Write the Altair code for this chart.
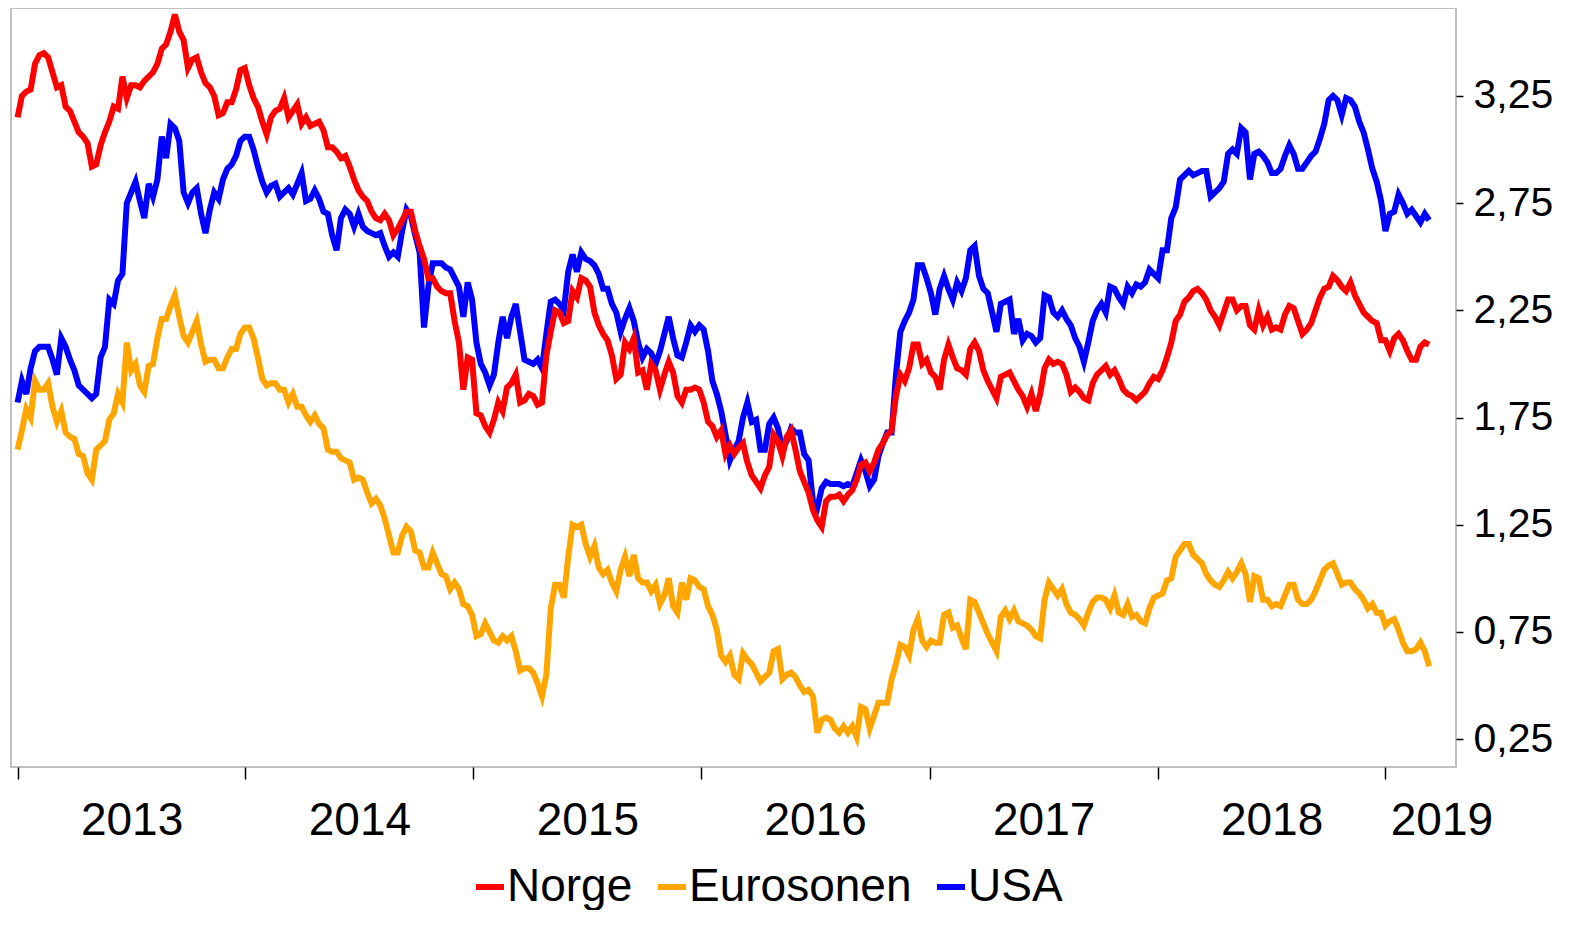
import altair as alt
import pandas as pd

dates_a = pd.date_range("2013-01-01", periods=162, freq="14D").strftime("%Y-%m-%d").tolist()
dates_b = pd.date_range("2013-01-08", periods=162, freq="14D").strftime("%Y-%m-%d").tolist()

norge_a = [
    3.15, 3.27, 3.40, 3.45, 3.36, 3.30, 3.18, 3.08, 3.03, 2.93,
    3.08, 3.20, 3.34, 3.30, 3.29, 3.34, 3.40, 3.49, 3.63, 3.51,
    3.42, 3.36, 3.29, 3.16, 3.22, 3.28, 3.38, 3.24, 3.13, 3.15,
    3.19, 3.15, 3.21, 3.15, 3.12, 3.09, 3.01, 2.96, 2.92, 2.81,
    2.76, 2.68, 2.70, 2.60, 2.67, 2.71, 2.55, 2.40, 2.36, 2.33,
    2.20, 1.88, 2.02, 1.76, 1.68, 1.82, 1.89, 1.95, 1.83, 1.85,
    1.82, 2.15, 2.24, 2.20, 2.31, 2.39, 2.24, 2.14, 2.04, 1.95,
    2.07, 1.96, 1.88, 1.97, 1.95, 1.96, 1.82, 1.88, 1.88, 1.73,
    1.66, 1.58, 1.58, 1.63, 1.48, 1.42, 1.52, 1.64, 1.66, 1.60,
    1.45, 1.32, 1.24, 1.38, 1.39, 1.39, 1.46, 1.54, 1.54, 1.63,
    1.69, 1.95, 1.98, 2.09, 2.02, 1.94, 2.02, 2.03, 1.97, 2.07,
    2.06, 1.92, 1.84, 1.95, 1.92, 1.85, 1.86, 1.86, 2.02, 2.01,
    1.95, 1.89, 1.84, 1.91, 1.97, 1.95, 1.93, 1.86, 1.83, 1.87,
    1.94, 1.97, 2.10, 2.23, 2.31, 2.35, 2.30, 2.22, 2.24, 2.30,
    2.27, 2.18, 2.25, 2.22, 2.17, 2.23, 2.26, 2.14, 2.19, 2.31,
    2.36, 2.39, 2.34, 2.32, 2.24, 2.20, 2.11, 2.06, 2.14, 2.06,
    2.02, 2.10,
]
norge_b = [
    3.25, 3.28, 3.44, 3.43, 3.29, 3.20, 3.13, 3.06, 2.92, 3.02,
    3.13, 3.19, 3.24, 3.30, 3.32, 3.36, 3.47, 3.55, 3.55, 3.38,
    3.43, 3.31, 3.25, 3.17, 3.22, 3.37, 3.30, 3.20, 3.07, 3.18,
    3.24, 3.18, 3.12, 3.11, 3.13, 3.01, 2.99, 2.97, 2.86, 2.78,
    2.71, 2.67, 2.67, 2.63, 2.71, 2.62, 2.49, 2.40, 2.34, 2.33,
    2.10, 2.03, 1.77, 1.71, 1.74, 1.78, 1.91, 1.82, 1.86, 1.81,
    2.04, 2.25, 2.19, 2.34, 2.40, 2.36, 2.18, 2.11, 1.93, 2.10,
    2.12, 1.97, 2.00, 1.88, 2.01, 1.85, 1.88, 1.89, 1.82, 1.71,
    1.69, 1.62, 1.61, 1.54, 1.45, 1.48, 1.67, 1.57, 1.69, 1.50,
    1.40, 1.27, 1.36, 1.38, 1.36, 1.41, 1.53, 1.50, 1.60, 1.67,
    1.85, 1.92, 2.09, 2.00, 1.96, 1.88, 2.09, 1.98, 1.95, 2.10,
    1.97, 1.88, 1.94, 1.96, 1.88, 1.80, 1.78, 1.98, 2.00, 2.00,
    1.87, 1.87, 1.83, 1.95, 1.99, 1.97, 1.88, 1.85, 1.85, 1.91,
    1.93, 2.03, 2.20, 2.29, 2.34, 2.33, 2.25, 2.18, 2.30, 2.25,
    2.27, 2.16, 2.18, 2.16, 2.16, 2.27, 2.20, 2.16, 2.25, 2.35,
    2.41, 2.36, 2.38, 2.28, 2.22, 2.19, 2.11, 2.12, 2.11, 2.02,
    2.08, 2.09,
]

eurosonen_a = [
    1.60, 1.79, 1.92, 1.88, 1.80, 1.78, 1.66, 1.58, 1.49, 1.60,
    1.64, 1.77, 1.82, 1.97, 1.90, 1.99, 2.12, 2.21, 2.32, 2.13,
    2.15, 2.09, 2.02, 1.98, 2.03, 2.07, 2.17, 2.12, 1.93, 1.91,
    1.88, 1.82, 1.80, 1.76, 1.76, 1.70, 1.59, 1.56, 1.54, 1.47,
    1.40, 1.37, 1.28, 1.12, 1.20, 1.22, 1.12, 1.05, 1.07, 1.01,
    0.98, 0.88, 0.83, 0.74, 0.75, 0.70, 0.71, 0.66, 0.58, 0.56,
    0.45, 0.86, 0.97, 1.10, 1.24, 1.16, 1.15, 1.02, 0.98, 1.04,
    1.01, 1.00, 0.98, 0.97, 0.92, 0.87, 0.98, 1.00, 0.96, 0.87,
    0.76, 0.61, 0.55, 0.65, 0.60, 0.52, 0.56, 0.67, 0.55, 0.54,
    0.47, 0.45, 0.34, 0.34, 0.28, 0.28, 0.26, 0.39, 0.36, 0.42,
    0.53, 0.69, 0.64, 0.81, 0.68, 0.70, 0.83, 0.77, 0.72, 0.90,
    0.84, 0.74, 0.66, 0.85, 0.85, 0.79, 0.76, 0.72, 0.98, 0.92,
    0.88, 0.83, 0.78, 0.89, 0.91, 0.86, 0.84, 0.88, 0.83, 0.79,
    0.91, 0.93, 1.00, 1.13, 1.16, 1.09, 1.02, 0.97, 0.99, 1.00,
    1.07, 0.89, 1.00, 0.90, 0.88, 0.92, 0.97, 0.88, 0.90, 0.99,
    1.06, 1.02, 0.98, 0.95, 0.90, 0.88, 0.84, 0.80, 0.76, 0.66,
    0.67, 0.66,
]
eurosonen_b = [
    1.69, 1.75, 1.88, 1.91, 1.73, 1.68, 1.65, 1.57, 1.46, 1.62,
    1.74, 1.86, 2.10, 2.00, 1.87, 2.00, 2.21, 2.27, 2.22, 2.10,
    2.20, 2.01, 2.02, 1.98, 2.07, 2.14, 2.17, 2.03, 1.90, 1.91,
    1.88, 1.86, 1.80, 1.73, 1.72, 1.60, 1.59, 1.55, 1.46, 1.46,
    1.35, 1.34, 1.20, 1.12, 1.24, 1.13, 1.05, 1.12, 1.02, 0.95,
    0.95, 0.87, 0.73, 0.79, 0.71, 0.73, 0.73, 0.57, 0.58, 0.51,
    0.55, 0.97, 0.91, 1.25, 1.25, 1.10, 1.05, 1.04, 0.94, 1.10,
    1.11, 0.98, 0.94, 0.88, 1.00, 0.84, 0.90, 0.99, 0.95, 0.83,
    0.64, 0.64, 0.53, 0.62, 0.56, 0.54, 0.66, 0.53, 0.56, 0.50,
    0.48, 0.28, 0.35, 0.30, 0.31, 0.31, 0.40, 0.30, 0.42, 0.42,
    0.60, 0.68, 0.76, 0.71, 0.71, 0.70, 0.84, 0.78, 0.67, 0.89,
    0.79, 0.70, 0.82, 0.81, 0.80, 0.78, 0.73, 0.90, 0.95, 0.95,
    0.84, 0.81, 0.84, 0.91, 0.90, 0.92, 0.83, 0.82, 0.80, 0.86,
    0.92, 0.99, 1.10, 1.16, 1.11, 1.07, 0.99, 0.96, 1.03, 1.03,
    1.02, 1.01, 0.90, 0.87, 0.87, 0.97, 0.90, 0.88, 0.94, 1.04,
    1.07, 0.97, 0.98, 0.93, 0.86, 0.84, 0.78, 0.81, 0.70, 0.66,
    0.70, 0.59,
]

usa_a = [
    1.82, 1.86, 2.06, 2.08, 2.02, 2.12, 2.02, 1.90, 1.86, 1.86,
    2.08, 2.28, 2.42, 2.80, 2.76, 2.84, 2.86, 2.96, 3.10, 2.80,
    2.80, 2.70, 2.72, 2.77, 2.91, 2.97, 3.06, 3.00, 2.85, 2.83,
    2.78, 2.82, 2.84, 2.76, 2.81, 2.71, 2.60, 2.68, 2.70, 2.70,
    2.62, 2.60, 2.55, 2.52, 2.62, 2.69, 2.52, 2.36, 2.47, 2.45,
    2.40, 2.22, 2.30, 2.00, 1.90, 2.10, 2.12, 2.28, 2.02, 2.00,
    1.98, 2.29, 2.28, 2.43, 2.43, 2.49, 2.46, 2.35, 2.28, 2.15,
    2.26, 2.10, 2.07, 2.00, 2.14, 2.12, 2.03, 2.18, 2.18, 2.06,
    1.86, 1.67, 1.60, 1.75, 1.73, 1.60, 1.72, 1.70, 1.64, 1.68,
    1.58, 1.36, 1.42, 1.44, 1.44, 1.44, 1.49, 1.50, 1.46, 1.63,
    1.68, 2.15, 2.24, 2.46, 2.40, 2.23, 2.41, 2.30, 2.34, 2.53,
    2.41, 2.33, 2.15, 2.29, 2.14, 2.11, 2.13, 2.12, 2.31, 2.22,
    2.21, 2.12, 2.01, 2.20, 2.28, 2.36, 2.31, 2.36, 2.37, 2.38,
    2.42, 2.53, 2.68, 2.86, 2.90, 2.89, 2.90, 2.80, 2.85, 3.00,
    3.10, 2.86, 2.99, 2.94, 2.89, 2.97, 2.98, 2.91, 2.97, 3.05,
    3.23, 3.23, 3.24, 3.20, 3.08, 2.91, 2.76, 2.70, 2.79, 2.70,
    2.69, 2.70,
]
usa_b = [
    1.92, 1.98, 2.08, 2.08, 1.95, 2.08, 1.97, 1.88, 1.84, 2.03,
    2.30, 2.39, 2.75, 2.85, 2.68, 2.78, 3.06, 3.12, 3.04, 2.75,
    2.82, 2.61, 2.80, 2.86, 2.93, 3.04, 3.06, 2.92, 2.80, 2.84,
    2.80, 2.79, 2.89, 2.77, 2.77, 2.70, 2.53, 2.72, 2.64, 2.64,
    2.61, 2.61, 2.50, 2.50, 2.72, 2.60, 2.17, 2.47, 2.47, 2.44,
    2.36, 2.38, 2.10, 1.96, 1.95, 2.22, 2.22, 2.15, 2.01, 2.02,
    2.14, 2.30, 2.25, 2.51, 2.52, 2.48, 2.42, 2.35, 2.24, 2.21,
    2.20, 2.03, 2.05, 2.06, 2.22, 2.04, 2.10, 2.15, 2.16, 1.92,
    1.78, 1.55, 1.64, 1.82, 1.74, 1.60, 1.75, 1.60, 1.70, 1.68,
    1.55, 1.33, 1.45, 1.44, 1.43, 1.43, 1.55, 1.43, 1.57, 1.68,
    1.95, 2.20, 2.30, 2.46, 2.33, 2.35, 2.35, 2.38, 2.40, 2.55,
    2.35, 2.24, 2.28, 2.30, 2.21, 2.14, 2.10, 2.32, 2.24, 2.25,
    2.18, 2.08, 2.10, 2.25, 2.24, 2.35, 2.28, 2.33, 2.36, 2.44,
    2.40, 2.53, 2.73, 2.88, 2.88, 2.90, 2.78, 2.82, 2.98, 2.98,
    3.08, 2.98, 2.97, 2.89, 2.91, 3.02, 2.91, 2.94, 2.99, 3.12,
    3.25, 3.16, 3.23, 3.13, 3.00, 2.85, 2.62, 2.71, 2.75, 2.72,
    2.66, 2.67,
]

series_names = ["Norge", "Eurosonen", "USA"]
series_colors = ["#ff0000", "#ffa500", "#0000ff"]
year_ticks = [2013, 2014, 2015, 2016, 2017, 2018, 2019]
y_ticks = [0.25, 0.75, 1.25, 1.75, 2.25, 2.75, 3.25]

rows = []
for name, va, vb in zip(series_names, [norge_a, eurosonen_a, usa_a], [norge_b, eurosonen_b, usa_b]):
    for d, v in zip(dates_a, va):
        rows.append({"dato": d, "serie": name, "rente": v})
    for d, v in zip(dates_b, vb):
        rows.append({"dato": d, "serie": name, "rente": v})
df = pd.DataFrame(rows).sort_values(["serie", "dato"]).reset_index(drop=True)

FONT = "Liberation Sans, Arial, sans-serif"

x_enc = alt.X(
    "dato:T",
    title=None,
    sort="ascending",
    scale=alt.Scale(
        type="utc",
        domain=[
            alt.DateTime(year=2012, month=12, date=21, hours=12, utc=True),
            alt.DateTime(year=2019, month=4, date=24, utc=True),
        ],
    ),
    axis=alt.Axis(
        values=[alt.DateTime(year=yr, month=1, date=1, utc=True) for yr in year_ticks],
        labelExpr="utcFormat(datum.value, '%Y')",
        labelOffset={"condition": {"test": "utcyear(datum.value) == 2019", "value": 56}, "value": 114},
        tickSize=12,
        tickColor="black",
        tickWidth=1.5,
        domain=False,
        grid=False,
        labelFont=FONT,
        labelFontSize=46,
        labelColor="black",
        labelPadding=19,
        labelAngle=0,
        labelFlush=False,
        labelOverlap=False,
        labelBound=False,
    ),
)

y_enc = alt.Y(
    "rente:Q",
    title=None,
    scale=alt.Scale(domain=[0.12, 3.66], nice=False, zero=False),
    axis=alt.Axis(
        orient="right",
        values=y_ticks,
        labelExpr="replace(format(datum.value, '.2f'), '.', ',')",
        tickSize=7,
        tickColor="black",
        tickWidth=1.5,
        domain=False,
        grid=False,
        labelFont=FONT,
        labelFontSize=41,
        labelColor="black",
        labelPadding=10,
    ),
)

color_enc = alt.Color(
    "serie:N",
    scale=alt.Scale(domain=series_names, range=series_colors),
    legend=alt.Legend(
        title=None,
        orient="none",
        legendX=456,
        legendY=856,
        direction="horizontal",
        symbolType="stroke",
        symbolSize=784,
        symbolStrokeWidth=6,
        labelFont=FONT,
        labelFontSize=46,
        labelColor="black",
        labelLimit=600,
        columnPadding=13,
        labelOffset={"expr": "-6"},
        padding=0,
    ),
)

base = alt.Chart(df).mark_line(strokeWidth=6, clip=True).encode(
    x=x_enc, y=y_enc, color=color_enc
)

layers = [base.transform_filter(alt.datum.serie == s) for s in ["USA", "Eurosonen", "Norge"]]

chart = (
    alt.layer(*layers)
    .properties(
        width=1445,
        height=759,
        padding={"left": 3, "top": 0, "right": 2, "bottom": 0},
        background="white",
    )
    .configure_view(stroke="#c0c0c0", strokeWidth=2)
)

chart.save("out.html", embed_options={"renderer": "svg", "actions": False})
